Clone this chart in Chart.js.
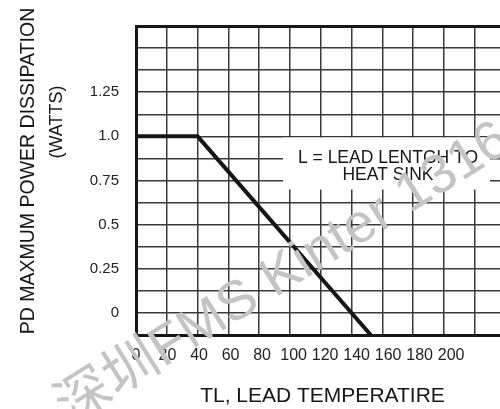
<!DOCTYPE html>
<html>
<head>
<meta charset="utf-8">
<script src="https://cdn.jsdelivr.net/npm/chart.js@4.4.1/dist/chart.umd.min.js"></script>
<style>
  html,body{margin:0;padding:0;background:#fff;}
  canvas{display:block;}
</style>
</head>
<body>
<canvas id="myChart" width="500" height="409"></canvas>
<script>
// derating curve: lead temperature (C) vs max power (W)
const tempC = [0, 40, 152.5]
const powerW = [1.0, 1.0, -0.125]

const xTickValues = [0, 20, 40, 60, 80, 100, 120, 140, 160, 180, 200]
const xTickLabels = ['0', '20', '40', '60', '80', '100', '120', '140', '160', '180', '200']
const yTickValues = [0, 0.25, 0.5, 0.75, 1.0, 1.25]
const yTickLabels = ['0', '0.25', '0.5', '0.75', '1.0', '1.25']

const yTitle = ['PD MAXMUM POWER DISSIPATION', '(WATTS)']
const xTitle = 'TL, LEAD TEMPERATIRE'
const noteLines = ['L = LEAD LENTGH TO', 'HEAT SINK']
const watermark = '深圳FMS Kinter 1316'

const FONT = '"Liberation Sans", Arial, sans-serif'
const GRID = '#3a3a3a'
const INK = '#161616'

const textPlugin = {
    id: 'texts',
    beforeDatasetsDraw(chart) {
        const c = chart.ctx
        // white note box over the grid
        c.save()
        c.fillStyle = '#fff'
        c.fillRect(283, 137.5, 207, 52)
        c.fillStyle = INK
        c.font = '17.5px ' + FONT
        c.textAlign = 'center'
        c.textBaseline = 'middle'
        c.fillText(noteLines[0], 388, 158)
        c.fillText(noteLines[1], 388, 175)
        c.restore()
    },
    afterDraw(chart) {
        const c = chart.ctx
        c.save()
        c.fillStyle = INK
        c.textAlign = 'center'
        c.textBaseline = 'middle'
        c.font = '21px ' + FONT
        c.fillText(xTitle, 322.5, 396.5)

        c.font = '19.5px ' + FONT
        c.save()
        c.translate(29, 171)
        c.rotate(-Math.PI / 2)
        c.fillText(yTitle[0], 0, 0)
        c.restore()
        c.save()
        c.translate(57, 122)
        c.rotate(-Math.PI / 2)
        c.font = '18px ' + FONT
        c.fillText(yTitle[1], 0, 0)
        c.restore()

        // watermark
        c.translate(70, 426)
        c.rotate(-32 * Math.PI / 180)
        c.fillStyle = '#c4c4c4'
        c.textAlign = 'left'
        c.textBaseline = 'alphabetic'
        c.font = '55px ' + FONT + ', "Noto Sans CJK SC"'
        c.fillText(watermark, 0, 0)
        c.restore()
    }
}

const ctx = document.getElementById('myChart')
new Chart(ctx, {
    type: 'line',
    data: {
        datasets: [{
            data: tempC.map((t, i) => ({x: t, y: powerW[i]})),
            borderColor: INK,
            borderWidth: 4,
            pointRadius: 0,
            tension: 0,
            fill: false
        }]
    },
    options: {
        responsive: false,
        animation: false,
        layout: {padding: {top: 24, right: 0, bottom: 0, left: 0}},
        plugins: {legend: {display: false}, tooltip: {enabled: false}},
        scales: {
            x: {
                type: 'linear',
                position: 'bottom',
                min: 0,
                max: 236.4,
                ticks: {display: false, stepSize: 20, includeBounds: false},
                grid: {color: GRID, lineWidth: 1.5, drawTicks: false},
                border: {color: INK, width: 3},
                afterFit: s => { s.height = 0 }
            },
            xl: {
                type: 'linear',
                position: 'bottom',
                weight: 1,
                min: 0,
                max: 231,
                afterBuildTicks: s => { s.ticks = xTickValues.map(v => ({value: v})) },
                ticks: {
                    autoSkip: false,
                    maxRotation: 0,
                    padding: 11,
                    color: '#222',
                    font: {family: FONT, size: 16},
                    callback: (v, i) => xTickLabels[i]
                },
                grid: {display: false, drawTicks: false},
                border: {display: false},
                afterFit: s => { s.height = 74 }
            },
            y: {
                min: -0.125,
                max: 1.625,
                ticks: {
                    stepSize: 0.125,
                    autoSkip: false,
                    padding: 17,
                    color: '#222',
                    font: {family: FONT, size: 15},
                    callback: v => {
                        const i = yTickValues.findIndex(t => Math.abs(t - v) < 1e-6)
                        return i >= 0 ? yTickLabels[i] : ''
                    }
                },
                grid: {
                    drawTicks: false,
                    color: c => c.tick && Math.abs(c.tick.value - 1.625) < 1e-6 ? INK : GRID,
                    lineWidth: c => c.tick && Math.abs(c.tick.value - 1.625) < 1e-6 ? 3 : 1.5
                },
                border: {color: INK, width: 3},
                afterFit: s => { s.width = 136 }
            }
        }
    },
    plugins: [textPlugin]
})
</script>
</body>
</html>
